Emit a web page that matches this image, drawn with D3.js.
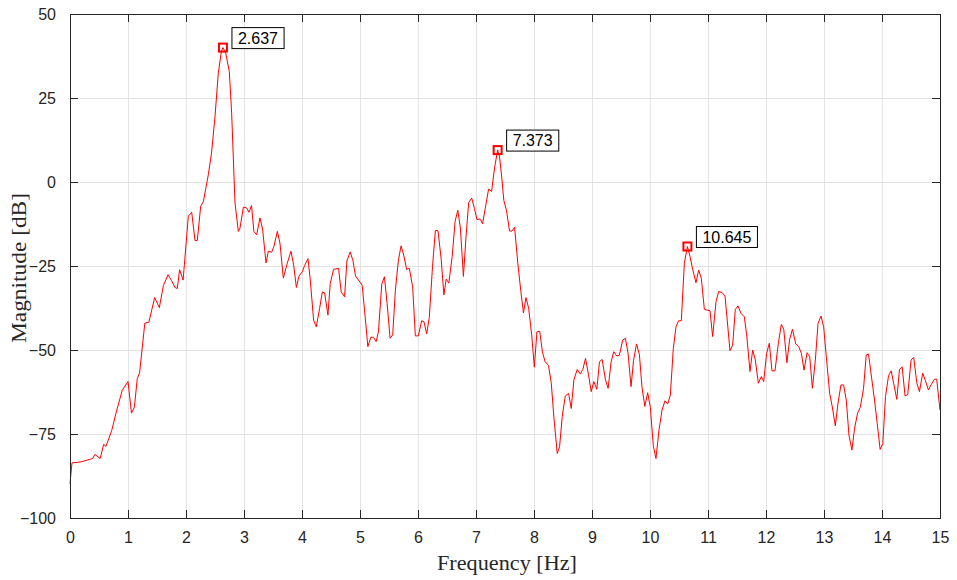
<!DOCTYPE html>
<html><head><meta charset="utf-8">
<script src="https://cdn.jsdelivr.net/npm/d3@7"></script>
<style>body{margin:0;background:#fff}svg{display:block}</style>
</head><body><svg id="c" width="957" height="580"></svg>
<script>
const freq = [0,0.034,0.19,0.33,0.39,0.43,0.52,0.58,0.62,0.72,0.79,0.9,1.0,1.06,1.11,1.16,1.2,1.29,1.36,1.46,1.54,1.61,1.69,1.75,1.81,1.85,1.89,1.95,2.04,2.098,2.155,2.195,2.253,2.3,2.385,2.44,2.5,2.557,2.61,2.637,2.684,2.747,2.787,2.845,2.902,2.931,2.989,3.046,3.086,3.13,3.17,3.218,3.276,3.32,3.38,3.42,3.477,3.517,3.575,3.62,3.678,3.747,3.81,3.857,3.903,3.948,4.006,4.046,4.103,4.143,4.2,4.246,4.304,4.35,4.39,4.447,4.487,4.544,4.63,4.676,4.734,4.774,4.831,4.877,4.923,4.974,5.037,5.089,5.135,5.186,5.232,5.278,5.318,5.375,5.421,5.467,5.519,5.564,5.61,5.662,5.708,5.754,5.805,5.851,5.908,5.954,6.006,6.063,6.103,6.149,6.195,6.25,6.3,6.345,6.4,6.446,6.486,6.531,6.589,6.64,6.686,6.731,6.783,6.829,6.874,6.926,6.971,7.017,7.069,7.114,7.16,7.217,7.269,7.32,7.373,7.405,7.445,7.48,7.525,7.578,7.62,7.665,7.72,7.77,7.818,7.862,7.908,7.96,8.006,8.05,8.098,8.145,8.19,8.25,8.298,8.344,8.401,8.441,8.487,8.539,8.596,8.642,8.688,8.745,8.797,8.842,8.888,8.94,8.986,9.031,9.083,9.129,9.175,9.232,9.278,9.33,9.375,9.427,9.473,9.53,9.576,9.622,9.673,9.716,9.767,9.817,9.862,9.911,9.96,10.006,10.057,10.103,10.155,10.207,10.259,10.305,10.351,10.402,10.448,10.494,10.54,10.592,10.645,10.69,10.736,10.793,10.839,10.885,10.937,10.977,11.034,11.08,11.138,11.184,11.241,11.293,11.339,11.379,11.425,11.471,11.517,11.569,11.626,11.667,11.724,11.77,11.816,11.868,11.92,11.96,12.011,12.057,12.103,12.155,12.213,12.264,12.306,12.36,12.408,12.456,12.513,12.564,12.61,12.656,12.708,12.754,12.8,12.851,12.897,12.948,12.994,13.04,13.097,13.143,13.195,13.241,13.292,13.338,13.384,13.43,13.481,13.527,13.579,13.625,13.682,13.728,13.768,13.814,13.871,13.917,13.968,14.014,14.06,14.112,14.158,14.203,14.255,14.301,14.347,14.398,14.444,14.501,14.547,14.599,14.645,14.702,14.748,14.8,14.845,14.903,14.943,15.0];
const magnitude = [-89.8,-83.6,-83.3,-82.6,-82.3,-81.1,-82.3,-78.1,-78.7,-73.9,-69,-62,-59.4,-68.8,-67,-58.5,-56.8,-42,-41.7,-34.4,-37.4,-30.8,-27.6,-29.3,-31.4,-31.7,-26.1,-29.2,-10.2,-9.0,-17.4,-17.4,-7.2,-5.8,2.2,8.6,19.5,32.4,38.9,40.0,38.4,32.9,20.5,-6.2,-14.7,-13.7,-7.5,-7.7,-9.0,-7.0,-14.7,-15.7,-10.7,-14,-24.1,-20.6,-20.9,-19.1,-14.7,-18.2,-28.6,-24.1,-20.6,-24.8,-31.4,-28,-26.7,-24.8,-22.8,-29.2,-41.1,-43.1,-37.6,-32.7,-33,-39.6,-30.2,-26,-25.7,-32.7,-34.2,-23.5,-20.8,-23.3,-28,-29.2,-30.7,-40.1,-49,-46.2,-46.2,-47.5,-44.6,-30.4,-28.2,-36.1,-46.5,-45.5,-32.2,-23.3,-19,-21.8,-26,-25.7,-31.2,-45.8,-45.8,-41.3,-41.6,-45.2,-40.3,-25.2,-14.4,-14.5,-23,-33.6,-28.9,-30.1,-22.2,-11.7,-8.4,-13.7,-28.1,-16,-6.1,-4.8,-7.8,-11.2,-11,-12.4,-7.8,-2.1,-2.8,4.2,9.5,7.7,1.2,-5.5,-8.4,-14.6,-14.6,-13.5,-24,-32.1,-39,-34.4,-37.6,-45.5,-55.1,-44.6,-44.4,-50.6,-53.4,-54.6,-59.9,-70.3,-80.8,-78.8,-69.8,-63.7,-62.9,-67.4,-58.9,-55.8,-57.1,-55.8,-52.5,-57.4,-62.4,-59.4,-61.7,-53.5,-52.8,-58.9,-61.4,-53.5,-50.5,-51.8,-51.5,-47,-46.5,-51,-60.9,-53.2,-48.2,-51.3,-61.1,-66.8,-62.7,-67.1,-78.5,-82.3,-73.8,-67.9,-65.1,-66.1,-63.4,-49.5,-43.1,-41.3,-41.3,-24.2,-19.2,-22.2,-26,-30,-26.2,-28.7,-37.9,-38.1,-38.3,-46,-35.6,-32.6,-32.9,-33.9,-42.6,-50.2,-48.6,-37.9,-36.9,-39.1,-40.1,-45.5,-56.4,-50,-53,-59.9,-57.9,-59.4,-51,-48,-56.2,-56.2,-48,-42.4,-43.8,-53.8,-46.8,-43.8,-48.2,-49,-51,-56,-50.8,-52,-61.4,-53,-42.1,-39.9,-43.1,-52,-62.9,-66.9,-72.6,-65.9,-60.4,-60.4,-64.9,-75.3,-79.8,-73.3,-68.8,-67.1,-61.4,-51.5,-51.2,-57.4,-64.9,-71.8,-79.6,-77.9,-63.9,-57.7,-56.2,-60.1,-64.7,-55.8,-55,-63.7,-63.2,-53,-52.2,-59.7,-62.4,-56.9,-59.1,-61.9,-60.4,-58.7,-58.7,-67.9];
const peakFreq = [2.637, 7.373, 10.645];
const peakMag = [40.0, 9.5, -19.2];
const peakLabels = ["2.637", "7.373", "10.645"];
const xTicks = [0,1,2,3,4,5,6,7,8,9,10,11,12,13,14,15];
const yTicks = [-100,-75,-50,-25,0,25,50];

const svg = d3.select("#c");
const L = 70, R = 940, T = 14, B = 518;
const x = d3.scaleLinear().domain([0,15]).range([L,R]);
const y = d3.scaleLinear().domain([-100,50]).range([B,T]);
const axisColor = "#262626";
const tickFont = "Liberation Sans, Arial, sans-serif";
const serif = "Liberation Serif, Times New Roman, serif";

// grid
const g = svg.append("g");
g.selectAll(".gx").data(xTicks.slice(1,-1)).join("line")
  .attr("x1", d=>x(d)+0.5).attr("x2", d=>x(d)+0.5).attr("y1",T).attr("y2",B)
  .attr("stroke","#e3e3e3").attr("stroke-width",1);
g.selectAll(".gy").data(yTicks.slice(1,-1)).join("line")
  .attr("y1", d=>Math.round(y(d))+0.5).attr("y2", d=>Math.round(y(d))+0.5).attr("x1",L).attr("x2",R)
  .attr("stroke","#e3e3e3").attr("stroke-width",1);

// line
const line = d3.line().x((d,i)=>x(freq[i])).y((d,i)=>y(magnitude[i]));
svg.append("path").datum(magnitude).attr("d", line)
  .attr("fill","none").attr("stroke","#ff0000").attr("stroke-width",1).attr("stroke-linejoin","round");

// axes
const tl = 8;
const xb = d3.axisBottom(x).tickValues(xTicks).tickSize(-tl).tickPadding(tl+6).tickFormat(d3.format("d"));
const yl = d3.axisLeft(y).tickValues(yTicks).tickSize(-tl).tickPadding(tl+6).tickFormat(d3.format("d"));
const xt = d3.axisTop(x).tickValues(xTicks).tickSize(-tl).tickFormat("");
const yr = d3.axisRight(y).tickValues(yTicks).tickSize(-tl).tickFormat("");
function style(sel){
  sel.selectAll("path").attr("stroke",axisColor).attr("stroke-width",1);
  sel.selectAll("line").attr("stroke",axisColor).attr("stroke-width",1);
  sel.selectAll("text").attr("fill",axisColor).style("font-family",tickFont).style("font-size","16px");
}
svg.append("g").attr("transform",`translate(0,${B})`).call(xb).call(style);
svg.append("g").attr("transform",`translate(${L},0)`).call(yl).call(style);
svg.append("g").attr("transform",`translate(0,${T})`).call(xt).call(style);
svg.append("g").attr("transform",`translate(${R},0)`).call(yr).call(style);

// labels
svg.append("text").attr("x",507).attr("y",570).attr("text-anchor","middle")
  .style("font-family",serif).style("font-size","22px").attr("fill",axisColor)
  .attr("textLength",140).attr("lengthAdjust","spacingAndGlyphs")
  .text("Frequency [Hz]");
svg.append("text").attr("transform",`translate(26,268) rotate(-90)`).attr("text-anchor","middle")
  .style("font-family",serif).style("font-size","22px").attr("fill",axisColor)
  .attr("textLength",150).attr("lengthAdjust","spacingAndGlyphs")
  .text("Magnitude [dB]");

// peaks
const pk = svg.append("g");
peakFreq.forEach((f,i)=>{
  const px = x(f), py = y(peakMag[i]);
  pk.append("rect").attr("x",px-4).attr("y",py-4).attr("width",8).attr("height",8)
    .attr("fill","none").attr("stroke","#ff0000").attr("stroke-width",2);
  const t = pk.append("text").attr("x",px+15).attr("y",py-4)
    .style("font-family",tickFont).style("font-size","16px").attr("fill","#000").text(peakLabels[i]);
  const bb = t.node().getBBox();
  pk.insert("rect", () => t.node()).attr("x",px+9).attr("y",py-20).attr("width",bb.width+12).attr("height",21)
    .attr("fill","#fff").attr("stroke","#000").attr("stroke-width",1);
});
</script></body></html>
